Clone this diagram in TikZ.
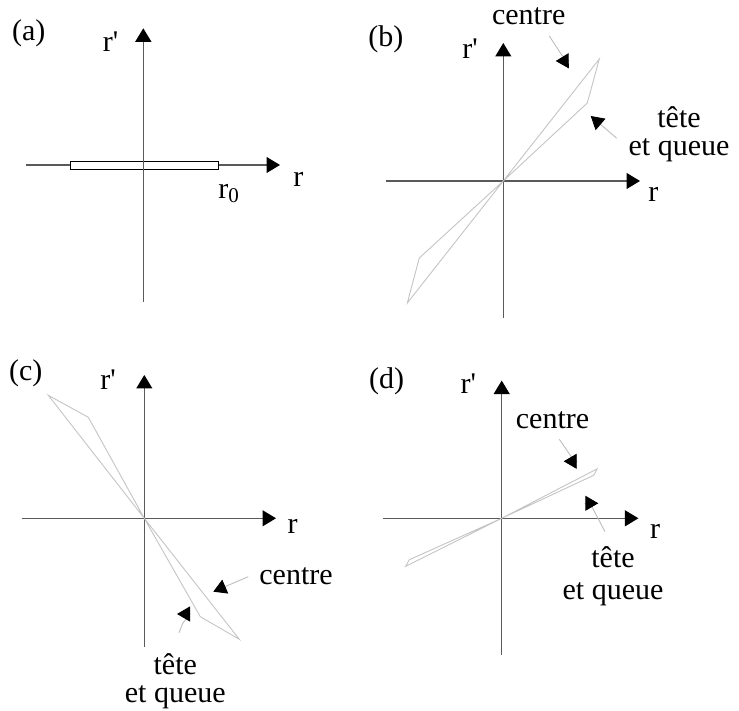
\documentclass[tikz,border=0pt]{standalone}
\usepackage{fontspec}
\setmainfont{Liberation Serif}
\usepackage{tikz}
\usetikzlibrary{arrows.meta}
\definecolor{axisGray}{HTML}{5A5A5A}
\definecolor{traceGray}{HTML}{C4C4C4}
\definecolor{leaderGray}{HTML}{BDBDBD}

\begin{document}
\begin{tikzpicture}[x=0.5pt, y=0.5pt,
    lbl/.style={inner sep=0pt, anchor=base, font=\fontsize{15}{15}\selectfont},
    axisarrow/.style={draw=axisGray, line width=0.6pt,
      -{Triangle[length=6.75pt, width=8pt, color=black, fill=black]}},
    trace/.style={draw=traceGray, line width=0.45pt, line join=miter},
    leader/.style={draw=leaderGray, line width=0.45pt,
      -{Triangle[length=6.5pt, width=7.5pt, color=black, fill=black]}}]
  \useasboundingbox (0,0) rectangle (739,711);

  % (a) the beam before the lens
  \begin{scope}[shift={(143.3,546)}]
    \draw[axisarrow] (-117.6,0) -- (136.7,0);
    \draw[black, line width=0.5pt, fill=white] (-73.3,-4.3) rectangle (74.7,3.3);
    \draw[axisarrow] (0,-136.7) -- (0,136.7);
    \node[lbl] (a-tag) at (-114.5,124) {(a)};
    \node[lbl] (a-ylab) at (-32.8,113.3) {r\textquotesingle};
    \node[lbl] (a-xlab) at (155,-21.7) {r};
    \node[lbl, anchor=base west] (a-r0) at (74.7,-33.3) {r\textsubscript{0}};
  \end{scope}

  % (b)
  \begin{scope}[shift={(503.3,530)}]
    \draw[axisarrow] (-117.6,0) -- (136.7,0);
    \draw[axisarrow] (0,-137) -- (0,138);
    \draw[trace] (0,0) -- (96,122) -- (84,78) -- cycle;
    \draw[trace] (0,0) -- (-96,-122) -- (-84,-77) -- cycle;
    \node[lbl] (b-tag) at (-117.5,134.3) {(b)};
    \node[lbl] (b-ylab) at (-33.3,122.7) {r\textquotesingle};
    \node[lbl] (b-xlab) at (150,-20.7) {r};
    \node[lbl] (b-centre) at (25.4,156) {centre};
    \node[lbl, align=center] (b-ends) at (175.7,25.5) {tête\\[-1pt]et queue};
    \coordinate (b-c1) at (46,145);
    \coordinate (b-c2) at (58.4,126);
    \coordinate (b-c3) at (65.4,120.2);
    \coordinate (b-c4) at (52.4,120);
    \draw[leader] (b-c1) -- (b-c2) -- (b-c3) -- (b-c4);
    \coordinate (b-t1) at (113.4,42.7);
    \coordinate (b-t2) at (87.4,65);
    \draw[leader] (b-t1) -- (b-t2);
  \end{scope}

  % (c)
  \begin{scope}[shift={(144.3,192.7)}]
    \draw[axisarrow] (-122.6,0) -- (131.7,0);
    \draw[axisarrow] (0,-128.4) -- (0,143.3);
    \draw[trace] (0,0) -- (-96,123) -- (-56,101) -- cycle;
    \draw[trace] (0,0) -- (95,-121) -- (56,-98.4) -- cycle;
    \node[lbl] (c-tag) at (-118.5,137.3) {(c)};
    \node[lbl] (c-ylab) at (-36.3,129) {r\textquotesingle};
    \node[lbl] (c-xlab) at (148.2,-15) {r};
    \node[lbl] (c-centre) at (151.7,-66) {centre};
    \node[lbl, align=center] (c-ends) at (31,-184.7) {tête\\[-1pt]et queue};
    \coordinate (c-c1) at (104,-58.4);
    \coordinate (c-c2) at (69,-73.4);
    \draw[leader] (c-c1) -- (c-c2);
    \coordinate (c-t1) at (34.7,-114.4);
    \coordinate (c-t2) at (38.4,-105);
    \coordinate (c-t3) at (45.7,-95.7);
    \coordinate (c-t4) at (32.7,-95.7);
    \draw[leader] (c-t1) -- (c-t2) -- (c-t3) -- (c-t4);
  \end{scope}

  % (d)
  \begin{scope}[shift={(501.7,192.7)}]
    \draw[axisarrow] (-118.3,0) -- (136.7,0);
    \draw[axisarrow] (0,-136.7) -- (0,137.7);
    \draw[trace] (0,0) -- (95.5,49.5) -- (92,43) -- cycle;
    \draw[trace] (0,0) -- (-96,-48) -- (-92.5,-41.5) -- cycle;
    \node[lbl] (d-tag) at (-115,130) {(d)};
    \node[lbl] (d-ylab) at (-33.4,125) {r\textquotesingle};
    \node[lbl] (d-xlab) at (153.3,-20) {r};
    \node[lbl] (d-centre) at (50.8,90) {centre};
    \node[lbl, align=center] (d-ends) at (111.3,-81.7) {tête\\[1pt]et queue};
    \coordinate (d-c1) at (57.6,79);
    \coordinate (d-c2) at (70,61);
    \coordinate (d-c3) at (75,57);
    \coordinate (d-c4) at (62,57);
    \draw[leader] (d-c1) -- (d-c2) -- (d-c3) -- (d-c4);
    \coordinate (d-t1) at (103.3,-13.4);
    \coordinate (d-t2) at (90.3,11.3);
    \coordinate (d-t3) at (83.6,15);
    \coordinate (d-t4) at (96.6,15);
    \draw[leader] (d-t1) -- (d-t2) -- (d-t3) -- (d-t4);
  \end{scope}
\end{tikzpicture}
\end{document}
